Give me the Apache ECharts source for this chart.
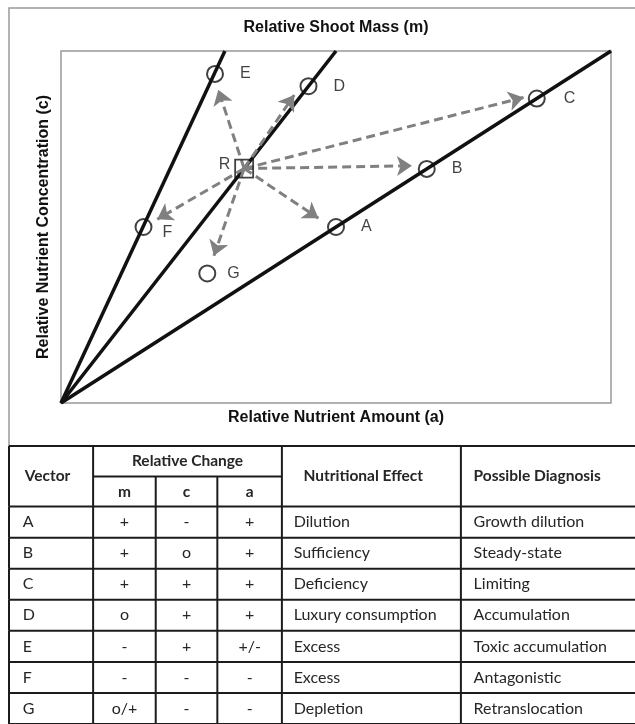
<!DOCTYPE html>
<html>
<head>
<meta charset="utf-8">
<script src="https://cdn.jsdelivr.net/npm/echarts@6/dist/echarts.min.js"></script>
<style>html,body{margin:0;padding:0;background:#fff;}#chart{width:635px;height:724px;}</style>
</head>
<body>
<div id="chart"></div>
<script>
// ---- Data ----
const pointNames = ['A', 'B', 'C', 'D', 'E', 'F', 'G'];
const pointX = [50, 66.5, 86.5, 45, 28, 15, 26.6];
const pointY = [50, 66.5, 86.5, 90, 93.5, 50, 36.8];
const refName = 'R';
const refX = 33.3;
const refY = 66.6;
const arrowTipX = [46.8, 63.8, 84.1, 42.4, 28.6, 17.5, 27.8];
const arrowTipY = [52.5, 67.4, 86.8, 87.5, 89.0, 52.2, 41.8];
const boundaryEndX = [29.8, 50, 100];
const boundaryEndY = [100, 100, 100];

const headerVector = 'Vector';
const headerChange = 'Relative Change';
const headerSub = ['m', 'c', 'a'];
const headerEffect = 'Nutritional Effect';
const headerDiagnosis = 'Possible Diagnosis';
const vectors = ['A', 'B', 'C', 'D', 'E', 'F', 'G'];
const changeM = ['+', '+', '+', 'o', '-', '-', 'o/+'];
const changeC = ['-', 'o', '+', '+', '+', '-', '-'];
const changeA = ['+', '+', '+', '+', '+/-', '-', '-'];
const effects = ['Dilution', 'Sufficiency', 'Deficiency', 'Luxury consumption', 'Excess', 'Excess', 'Depletion'];
const diagnoses = ['Growth dilution', 'Steady-state', 'Limiting', 'Accumulation', 'Toxic accumulation', 'Antagonistic', 'Retranslocation'];

const titleTop = 'Relative Shoot Mass (m)';
const xName = 'Relative Nutrient Amount (a)';
const yName = 'Relative Nutrient Concentration (c)';

// ---- Layout (table units) ----
const colEdges = [0, 86, 150, 213, 279, 462, 640];
const headH = 61, subSplit = 30.7, rowH = 31.3;
const tableW = 640, tableH = 280;

const chart = echarts.init(document.getElementById('chart'), null, {renderer: 'canvas'});
const FONT = 'Liberation Sans, Arial, Helvetica, sans-serif';
const TFONT = 'Lato, Carlito, Calibri, sans-serif';
const lineCol = '#1c1c1c';
const txtCol = '#262626';

const labelCfg = {
  F: {position: 'right', distance: 10, offset: [0, 6]},
  G: {position: 'right', distance: 11},
  C: {position: 'right', distance: 18}
};

const pointData = pointNames.map((n, i) => {
  const d = {name: n, value: [pointX[i], pointY[i]]};
  if (labelCfg[n]) d.label = labelCfg[n];
  return d;
});

function tline(api, x1, y1, x2, y2) {
  const p1 = api.coord([x1, y1]);
  const p2 = api.coord([x2, y2]);
  return {type: 'line', shape: {x1: p1[0], y1: p1[1], x2: p2[0], y2: p2[1]},
    style: {stroke: lineCol, lineWidth: 2}};
}
function ttext(api, x, y, s, align, bold) {
  const p = api.coord([x, y]);
  return {type: 'text', x: p[0], y: p[1], style: {text: s, align: align, verticalAlign: 'middle',
    font: (bold ? 'bold 15.5px ' : '16px ') + TFONT, fill: txtCol}};
}
const colCenter = i => (colEdges[i] + colEdges[i + 1]) / 2;

const option = {
  animation: false,
  backgroundColor: '#fff',
  graphic: [
    {type: 'rect', shape: {x: 9, y: 8, width: 700, height: 438}, style: {fill: 'none', stroke: '#999', lineWidth: 1.5}, z: 0},
    {type: 'text', x: 336, y: 28, style: {text: titleTop, font: 'bold 16px ' + FONT, fill: '#111', align: 'center', verticalAlign: 'middle'}}
  ],
  grid: [
    {left: 61, top: 51, width: 550, height: 352, show: true, borderColor: '#999', borderWidth: 1.5, backgroundColor: 'transparent'},
    {left: 9, top: 446, width: tableW, height: tableH, show: false}
  ],
  xAxis: [
    {gridIndex: 0, type: 'value', min: 0, max: 100, axisLine: {show: false}, axisTick: {show: false}, axisLabel: {show: false}, splitLine: {show: false},
      name: xName, nameLocation: 'middle', nameGap: 7, nameTextStyle: {fontFamily: FONT, fontWeight: 'bold', fontSize: 16, color: '#111'}},
    {gridIndex: 1, type: 'value', min: 0, max: tableW, show: false}
  ],
  yAxis: [
    {gridIndex: 0, type: 'value', min: 0, max: 100, axisLine: {show: false}, axisTick: {show: false}, axisLabel: {show: false}, splitLine: {show: false},
      name: yName, nameLocation: 'middle', nameGap: 9, nameTextStyle: {fontFamily: FONT, fontWeight: 'bold', fontSize: 16, color: '#111'}},
    {gridIndex: 1, type: 'value', min: 0, max: tableH, inverse: true, show: false}
  ],
  series: [
    {
      type: 'lines', coordinateSystem: 'cartesian2d', xAxisIndex: 0, yAxisIndex: 0, z: 2,
      lineStyle: {color: '#111', width: 3.5, opacity: 1},
      data: boundaryEndX.map((x, i) => ({coords: [[0, 0], [x, boundaryEndY[i]]]}))
    },
    {
      type: 'lines', coordinateSystem: 'cartesian2d', xAxisIndex: 0, yAxisIndex: 0, z: 3,
      symbol: ['none', 'arrow'], symbolSize: [12, 15],
      lineStyle: {color: '#808080', width: 3, type: [9, 5], opacity: 1},
      data: arrowTipX.map((x, i) => ({coords: [[refX, refY], [x, arrowTipY[i]]]}))
    },
    {
      type: 'scatter', xAxisIndex: 0, yAxisIndex: 0, z: 4,
      symbol: 'circle', symbolSize: 16,
      itemStyle: {color: 'rgba(255,255,255,0)', borderColor: '#111', borderWidth: 2},
      label: {show: true, formatter: '{b}', position: 'right', distance: 16, fontFamily: FONT, fontSize: 16, color: '#111'},
      emphasis: {disabled: true},
      data: pointData
    },
    {
      type: 'scatter', xAxisIndex: 0, yAxisIndex: 0, z: 4,
      symbol: 'rect', symbolSize: 18,
      itemStyle: {color: 'rgba(255,255,255,0)', borderColor: '#111', borderWidth: 1.8},
      label: {show: true, formatter: '{b}', position: 'left', distance: 4, offset: [0, -4], fontFamily: FONT, fontSize: 16, color: '#111'},
      emphasis: {disabled: true},
      data: [{name: refName, value: [refX, refY]}]
    },
    {
      // table header
      type: 'custom', coordinateSystem: 'cartesian2d', xAxisIndex: 1, yAxisIndex: 1, clip: false, z: 5,
      data: [[0]],
      renderItem: function (params, api) {
        const ch = [];
        ch.push(tline(api, 0, 0, tableW, 0));
        ch.push(tline(api, colEdges[1], subSplit, colEdges[4], subSplit));
        ch.push(tline(api, 0, headH, tableW, headH));
        ch.push(tline(api, 0, 0, 0, headH));
        [1, 4, 5].forEach(k => ch.push(tline(api, colEdges[k], 0, colEdges[k], headH)));
        [2, 3].forEach(k => ch.push(tline(api, colEdges[k], subSplit, colEdges[k], headH)));
        ch.push(ttext(api, 16, headH / 2, headerVector, 'left', true));
        ch.push(ttext(api, (colEdges[1] + colEdges[4]) / 2, subSplit / 2, headerChange, 'center', true));
        headerSub.forEach((s, k) => ch.push(ttext(api, colCenter(k + 1), (subSplit + headH) / 2, s, 'center', true)));
        ch.push(ttext(api, 301, headH / 2, headerEffect, 'left', true));
        ch.push(ttext(api, 475, headH / 2, headerDiagnosis, 'left', true));
        return {type: 'group', children: ch};
      }
    },
    {
      // table body rows
      type: 'custom', coordinateSystem: 'cartesian2d', xAxisIndex: 1, yAxisIndex: 1, clip: false, z: 5,
      data: vectors.map((v, i) => [i]),
      renderItem: function (params, api) {
        const i = api.value(0);
        const y0 = headH + i * rowH, y1 = y0 + rowH, ym = (y0 + y1) / 2;
        const ch = [];
        ch.push(tline(api, 0, y1, tableW, y1));
        for (let k = 0; k < 6; k++) ch.push(tline(api, colEdges[k], y0, colEdges[k], y1));
        ch.push(ttext(api, 14, ym, vectors[i], 'left', false));
        ch.push(ttext(api, colCenter(1), ym, changeM[i], 'center', false));
        ch.push(ttext(api, colCenter(2), ym, changeC[i], 'center', false));
        ch.push(ttext(api, colCenter(3), ym, changeA[i], 'center', false));
        ch.push(ttext(api, 291, ym, effects[i], 'left', false));
        ch.push(ttext(api, 475, ym, diagnoses[i], 'left', false));
        return {type: 'group', children: ch};
      }
    }
  ]
};
chart.setOption(option);
</script>
</body>
</html>
